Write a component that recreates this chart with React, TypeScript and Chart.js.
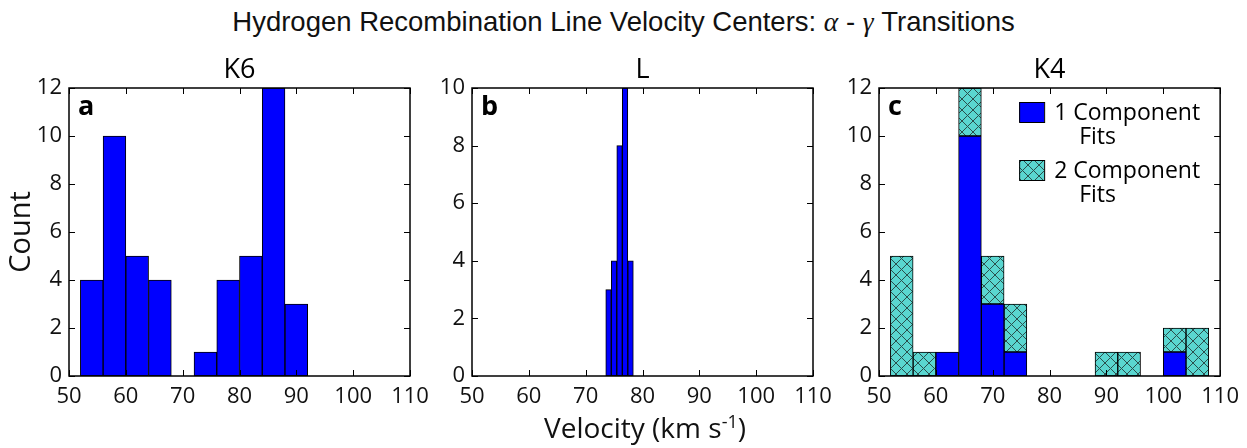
import React, { useEffect, useRef } from "react";
import { Chart, registerables } from "chart.js";

Chart.register(...registerables);

// ---------- data ----------
const velocityMin = 50;
const velocityMax = 110;
const velocityStep = 10;

const k6BinCenters = [54, 58, 62, 66, 70, 74, 78, 82, 86, 90];
const k6Counts = [4, 10, 5, 4, 0, 1, 4, 5, 12, 3];

const lBinCenters = [74.02, 74.99, 75.96, 76.93, 77.9];
const lCounts = [3, 4, 8, 10, 4];

const k4BinCenters = [54, 58, 62, 66, 70, 74, 78, 82, 86, 90, 94, 98, 102, 106];
const k4OneComponent = [0, 0, 1, 10, 3, 1, 0, 0, 0, 0, 0, 0, 1, 0];
const k4TwoComponent = [5, 1, 0, 2, 2, 2, 0, 0, 0, 1, 1, 0, 1, 2];

const panelTitles = ["K6", "L", "K4"];
const panelLetters = ["a", "b", "c"];
const countMax = [12, 10, 12];
const legendLabels = [["1 Component", "Fits"], ["2 Component", "Fits"]];

// ---------- styles ----------
const FONT = '"Open Sans", "DejaVu Sans", sans-serif';
const BLUE = "#0000ff";
const CYAN = "#5ad6d0";
const HATCH = "#2b4f4d";

function makeHatch(): CanvasPattern | string {
  const s = 11;
  const c = document.createElement("canvas");
  c.width = s;
  c.height = s;
  const g = c.getContext("2d");
  if (!g) return CYAN;
  g.fillStyle = CYAN;
  g.fillRect(0, 0, s, s);
  g.strokeStyle = HATCH;
  g.lineWidth = 1;
  g.beginPath();
  g.moveTo(-1, -1);
  g.lineTo(s + 1, s + 1);
  g.moveTo(s + 1, -1);
  g.lineTo(-1, s + 1);
  g.stroke();
  const p = g.createPattern(c, "repeat");
  return p || CYAN;
}

type DecorOpts = {
  title: string;
  letter: string;
  legend?: { fill: any; lines: string[] }[];
};

function decorPlugin(o: DecorOpts) {
  return {
    id: "decor",
    afterDatasetsDraw(chart: any) {
      const { ctx, chartArea } = chart;
      const { left, right, top, bottom } = chartArea;
      ctx.save();
      // frame
      ctx.strokeStyle = "#000";
      ctx.lineWidth = 1.5;
      ctx.strokeRect(left, top, right - left, bottom - top);
      // inward ticks
      ctx.lineWidth = 1;
      const tl = 6;
      const xs = chart.scales.x;
      const ys = chart.scales.y;
      ctx.beginPath();
      xs.ticks.forEach((t: any) => {
        const px = Math.round(xs.getPixelForValue(t.value)) + 0.5;
        ctx.moveTo(px, bottom);
        ctx.lineTo(px, bottom - tl);
        ctx.moveTo(px, top);
        ctx.lineTo(px, top + tl);
      });
      ys.ticks.forEach((t: any) => {
        const py = Math.round(ys.getPixelForValue(t.value)) + 0.5;
        ctx.moveTo(left, py);
        ctx.lineTo(left + tl, py);
        ctx.moveTo(right, py);
        ctx.lineTo(right - tl, py);
      });
      ctx.stroke();
      // panel title
      ctx.fillStyle = "#000";
      ctx.font = `27px ${FONT}`;
      ctx.textAlign = "center";
      ctx.textBaseline = "alphabetic";
      ctx.fillText(o.title, (left + right) / 2, top - 10);
      // letter
      ctx.font = `bold 27px ${FONT}`;
      ctx.textAlign = "left";
      ctx.fillText(o.letter, left + 9, top + 27);
      // legend
      if (o.legend) {
        o.legend.forEach((item, i) => {
          const by = top + 14 + i * 58;
          const bx = right - 201;
          ctx.fillStyle = item.fill;
          ctx.fillRect(bx, by, 25, 20);
          ctx.strokeStyle = "#000";
          ctx.lineWidth = 1;
          ctx.strokeRect(bx + 0.5, by + 0.5, 25, 20);
          ctx.fillStyle = "#000";
          ctx.font = `23px ${FONT}`;
          ctx.textAlign = "left";
          ctx.fillText(item.lines[0], right - 166, by + 18);
          ctx.fillText(item.lines[1], right - 141, by + 42);
        });
      }
      ctx.restore();
    },
  };
}

function baseOptions(yMax: number, yAxisWidth: number, padRight: number, yTitle?: string) {
  return {
    responsive: false,
    maintainAspectRatio: false,
    animation: false,
    devicePixelRatio: 1,
    layout: { padding: { top: 88, left: 0, right: padRight, bottom: 0 } },
    plugins: {
      legend: { display: false },
      title: { display: false },
      tooltip: { enabled: false },
    },
    scales: {
      x: {
        type: "linear",
        min: velocityMin,
        max: velocityMax,
        offset: false,
        stacked: true,
        grid: { display: false, drawTicks: false, offset: false },
        border: { display: false },
        ticks: {
          stepSize: velocityStep,
          autoSkip: false,
          maxRotation: 0,
          padding: 8,
          color: "#111",
          font: { family: FONT, size: 22 },
        },
        afterFit: (s: any) => {
          s.height = 72;
        },
      },
      y: {
        min: 0,
        max: yMax,
        stacked: true,
        grid: { display: false, drawTicks: false },
        border: { display: false },
        title: yTitle
          ? {
              display: true,
              text: yTitle,
              color: "#111",
              font: { family: FONT, size: 29 },
              padding: { top: 4, bottom: 0 },
            }
          : { display: false },
        ticks: {
          stepSize: 2,
          padding: 7,
          color: "#111",
          font: { family: FONT, size: 22 },
        },
        afterFit: (s: any) => {
          s.width = yAxisWidth;
        },
      },
    },
  };
}

function barDataset(label: string, centers: number[], values: number[], fill: any) {
  return {
    label,
    data: centers.map((c, i) => ({ x: c, y: values[i] })),
    backgroundColor: fill,
    borderColor: "#000",
    borderWidth: 1,
    borderSkipped: false,
    barPercentage: 1,
    categoryPercentage: 1,
  };
}

export default function App() {
  const refA = useRef<HTMLCanvasElement>(null);
  const refB = useRef<HTMLCanvasElement>(null);
  const refC = useRef<HTMLCanvasElement>(null);

  useEffect(() => {
    const hatch = makeHatch();
    const charts: Chart[] = [];
    if (refA.current) {
      charts.push(
        new Chart(refA.current, {
          type: "bar",
          data: { datasets: [barDataset("K6", k6BinCenters, k6Counts, BLUE)] },
          options: baseOptions(countMax[0], 69, 40, "Count") as any,
          plugins: [decorPlugin({ title: panelTitles[0], letter: panelLetters[0] })],
        } as any)
      );
    }
    if (refB.current) {
      charts.push(
        new Chart(refB.current, {
          type: "bar",
          data: { datasets: [barDataset("L", lBinCenters, lCounts, BLUE)] },
          options: baseOptions(countMax[1], 52, 37) as any,
          plugins: [decorPlugin({ title: panelTitles[1], letter: panelLetters[1] })],
        } as any)
      );
    }
    if (refC.current) {
      charts.push(
        new Chart(refC.current, {
          type: "bar",
          data: {
            datasets: [
              barDataset(legendLabels[0].join(" "), k4BinCenters, k4OneComponent, BLUE),
              barDataset(legendLabels[1].join(" "), k4BinCenters, k4TwoComponent, hatch),
            ],
          },
          options: baseOptions(countMax[2], 49, 26) as any,
          plugins: [
            decorPlugin({
              title: panelTitles[2],
              letter: panelLetters[2],
              legend: [
                { fill: BLUE, lines: legendLabels[0] },
                { fill: hatch, lines: legendLabels[1] },
              ],
            }),
          ],
        } as any)
      );
    }
    return () => charts.forEach((c) => c.destroy());
  }, []);

  const canvasStyle = (left: number, width: number): React.CSSProperties => ({
    position: "absolute",
    left,
    top: 0,
    width,
    height: 448,
  });

  const mathStyle: React.CSSProperties = { fontFamily: '"Liberation Serif", "DejaVu Serif", serif', fontStyle: "italic" };

  return (
    <div style={{ position: "absolute", left: 0, top: 0, width: 1247, height: 448, background: "#fff", overflow: "hidden" }}>
      <div
        style={{
          position: "absolute",
          left: 0,
          top: 7,
          width: 1247,
          textAlign: "center",
          fontFamily: '"Liberation Sans", Arial, sans-serif',
          fontSize: 27.5,
          lineHeight: "30px",
          color: "#111",
        }}
      >
        Hydrogen Recombination Line Velocity Centers: <span style={mathStyle}>α</span> -{" "}
        <span style={mathStyle}>γ</span> Transitions
      </div>
      <canvas ref={refA} width={450} height={448} style={canvasStyle(0, 450)} />
      <canvas ref={refB} width={430} height={448} style={canvasStyle(420, 430)} />
      <canvas ref={refC} width={417} height={448} style={canvasStyle(830, 417)} />
      <div
        style={{
          position: "absolute",
          left: 442,
          width: 406,
          top: 410,
          textAlign: "center",
          fontFamily: FONT,
          fontSize: 28,
          lineHeight: "34px",
          color: "#111",
        }}
      >
        Velocity (km s<sup style={{ fontSize: 18, verticalAlign: "super", lineHeight: 0 }}>-1</sup>)
      </div>
    </div>
  );
}
